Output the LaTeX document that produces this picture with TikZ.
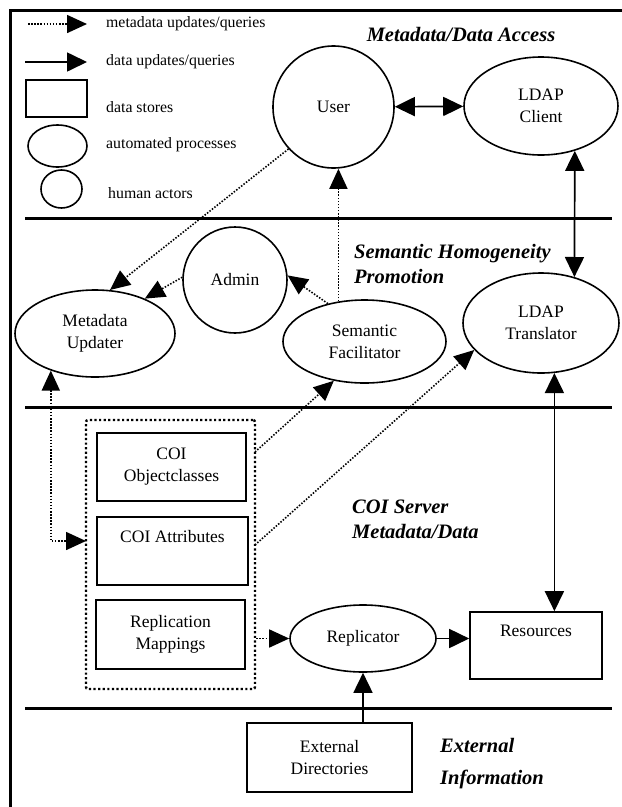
\documentclass[tikz,border=0pt]{standalone}
\usepackage{fontspec}
\setmainfont{Liberation Serif}
\usetikzlibrary{arrows.meta,shapes.geometric}

\tikzset{
  proc/.style={draw,ellipse,line width=1.6,inner sep=0,align=center,font=\fontsize{17.5}{22}\selectfont},
  actor/.style={proc},
  store/.style={draw,rectangle,line width=1.6,inner sep=0,align=center,font=\fontsize{17.5}{22}\selectfont},
  group/.style={draw,rectangle,line width=2.4,dash pattern=on 2.2pt off 2.4pt,rounded corners=2pt},
  data/.style={line width=1.7,>={Triangle[length=20pt,width=19pt]}},
  meta/.style={line width=1.6,dash pattern=on 1.5pt off 1.6pt,>={Triangle[length=20pt,width=18pt]}},
  sep/.style={line width=3},
  lgtext/.style={anchor=west,inner sep=0,font=\fontsize{15.8}{19}\selectfont},
  hdr/.style={inner sep=0,align=left,font=\fontsize{20.5}{25}\selectfont\bfseries\itshape}
}

\begin{document}
\begin{tikzpicture}[x=1pt,y=-1pt]
\useasboundingbox[fill=white] (0,0) rectangle (622,807);
\draw[line width=3] (10.5,807) -- (10.5,10.5) -- (622,10.5);
\draw[sep] (25,218) -- (612,218);
\draw[sep] (25,407) -- (612,407);
\draw[sep] (25,708) -- (612,708);

\coordinate (lm0) at (28,24);
\coordinate (lm1) at (87,24);
\coordinate (ld0) at (25,62);
\coordinate (ld1) at (87,62);
\draw[meta,->] (lm0) -- (lm1);
\draw[data,->] (ld0) -- (ld1);
\node[store,minimum width=61,minimum height=37] (lgstore) at (56.5,98.5) {};
\node[proc,minimum width=59,minimum height=42] (lgproc) at (57.5,146) {};
\node[actor,minimum width=41,minimum height=38] (lgactor) at (61.5,189) {};
\node[lgtext] (lgmeta) at (106,24) {metadata updates/queries};
\node[lgtext] (lgdata) at (106,62) {data updates/queries};
\node[lgtext] (lgstoretxt) at (106,107) {data stores};
\node[lgtext] (lgproctxt) at (106,145) {automated processes};
\node[lgtext] (lgactortxt) at (108,193) {human actors};

\node[hdr] (hdraccess) at (461,34) {Metadata/Data Access};
\node[hdr,anchor=west] (hdrsem) at (354,263.5) {Semantic Homogeneity\\Promotion};
\node[hdr,anchor=west] (hdrcoi) at (352,519.5) {COI Server\\Metadata/Data};
\node[hdr,anchor=west] (hdrext) at (440,764) {External\\[7pt]Information};

\node[actor,minimum width=121,minimum height=122] (user) at (333.5,107) {User};
\node[proc,minimum width=154,minimum height=98] (client) at (541,106) {LDAP\\Client};
\node[proc,minimum width=156,minimum height=100] (translator) at (541,323) {LDAP\\Translator};
\node[proc,minimum width=163,minimum height=83] (facil) at (364.5,341.5) {Semantic\\Facilitator};
\node[actor,minimum width=104,minimum height=106] (admin) at (235,280) {Admin};
\node[proc,minimum width=160,minimum height=87] (updater) at (95,333.5) {Metadata\\Updater};
\node[group,minimum width=169,minimum height=269] (coi) at (170.5,554.5) {};
\node[store,minimum width=149,minimum height=68] (objcls) at (171.5,467) {COI\\Objectclasses};
\node[store,minimum width=151,minimum height=68] (attrs) at (172.5,551) {COI Attributes\\ \strut};
\node[store,minimum width=149,minimum height=69] (replmap) at (170.5,634.5) {Replication\\Mappings};
\node[proc,minimum width=146,minimum height=67] (replicator) at (363,638.5) {Replicator};
\node[store,minimum width=132,minimum height=67] (resources) at (536,645.5) {Resources\\ \strut};
\node[store,minimum width=165,minimum height=69] (extdir) at (329.5,757.5) {External\\Directories};

\coordinate (ocout) at (255,452);
\coordinate (atout) at (255,545);
\coordinate (atin) at (86,541);

\draw[data,<->] (user) -- (client);
\draw[data,<->] (client.-53) -- (translator.54);
\draw[data,<->] (translator.-75) -- (translator.-75 |- resources.north);
\draw[data,->] (replicator.east) -- (replicator.east -| resources.west);
\draw[data,->] (replicator.south |- extdir.north) -- (replicator.south);
\draw[meta,->] (user.-137) -- (updater.71);
\draw[meta,->] (admin.177) -- (updater.35);
\draw[meta,->] (facil.134) -- (admin.5);
\draw[meta,->] (facil.123) -- (facil.123 |- user.south);
\draw[meta,->] (ocout) -- (facil.-128);
\draw[meta,->] (atout) -- (translator.-158);
\draw[meta,<->] (updater.-140) |- (atin);
\draw[meta,->] (coi.east |- replicator.west) -- (replicator.west);
\end{tikzpicture}
\end{document}
